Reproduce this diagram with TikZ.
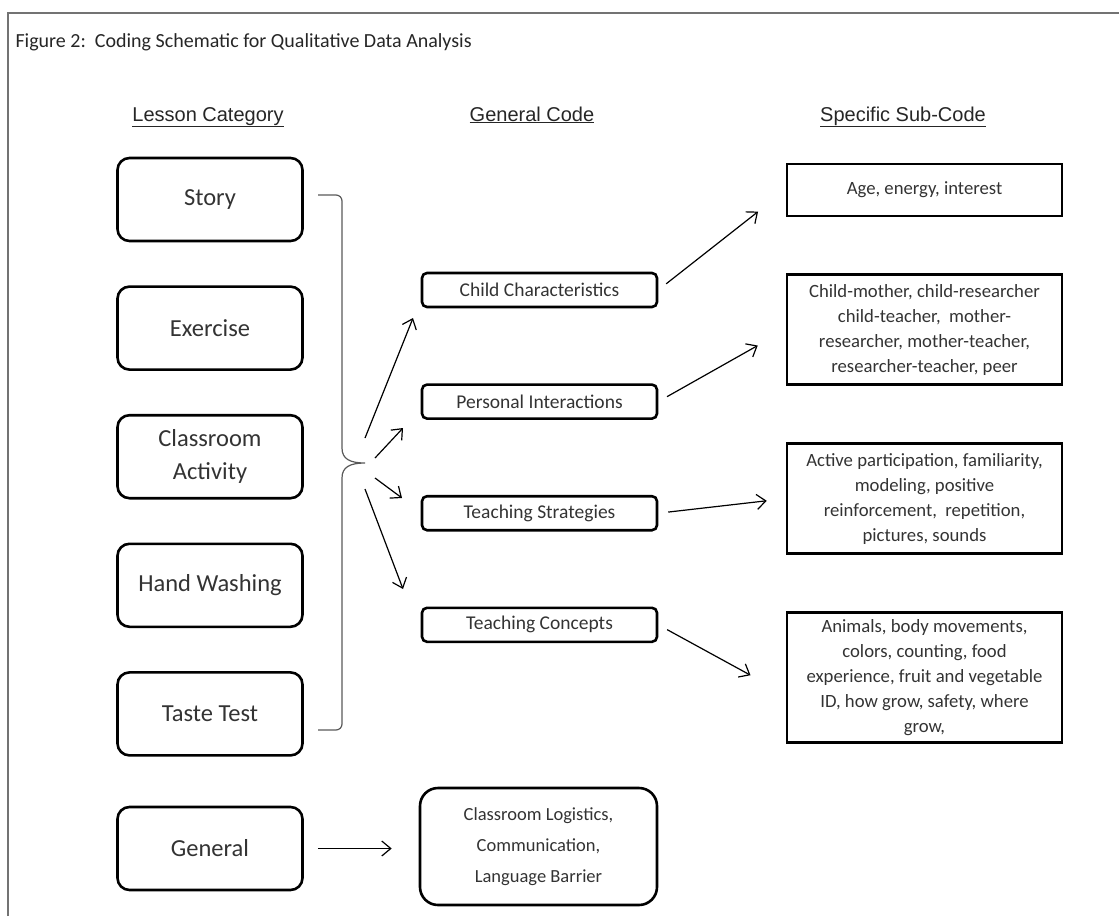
\documentclass[tikz,border=0pt]{standalone}
\usepackage{fontspec}
\setmainfont{Carlito}
\newfontfamily\headfont{Liberation Sans}
\usetikzlibrary{arrows.meta, positioning}
\tikzstyle{lesson} = [rectangle, rounded corners=12pt, minimum width=185pt, minimum height=83pt, text centered, align=center, draw=black, line width=2.6pt, text=black!80, font=\fontsize{24.5}{33}\selectfont]
\tikzstyle{gencode} = [rectangle, rounded corners=5pt, minimum width=235pt, minimum height=34pt, inner sep=1pt, text centered, draw=black, line width=2.6pt, text=black!80, font=\fontsize{19.5}{22}\selectfont]
\tikzstyle{subcode} = [rectangle, minimum width=275pt, inner sep=2pt, text centered, align=center, draw=black, line width=2.8pt, text=black!80, font=\fontsize{18.7}{25}\selectfont]
\tikzstyle{logist} = [rectangle, rounded corners=18pt, minimum width=237pt, minimum height=117pt, text centered, align=center, draw=black, line width=2.6pt, text=black!80, font=\fontsize{18.5}{31}\selectfont]
\tikzstyle{header} = [anchor=base, text=black!85, font=\headfont\fontsize{20}{24}\selectfont]
\tikzstyle{arrow} = [line width=1.2pt, -{Straight Barb[length=9pt,width=15pt]}]
\tikzstyle{brace} = [line width=1.2pt, draw=black!65]
\tikzstyle{frame} = [line width=2pt, draw=black!55]

\begin{document}
\begin{tikzpicture}[x=1pt, y=-1pt]
\useasboundingbox (0,0) rectangle (1119,916);

\draw [frame] (8,916) -- (8,13) -- (1119,13);

\node (title) [anchor=base west, text=black!85, font=\fontsize{20}{24}\selectfont] at (12,47) {Figure 2:\ \ Coding Schematic for Qualitative Data Analysis};

\node (hlesson) [header] at (208,121) {\underline{Lesson Category}};
\node (hgeneral) [header] at (532,121) {\underline{General Code}};
\node (hspecific) [header] at (903,121) {\underline{Specific Sub-Code}};

% lesson categories
\node (story) [lesson] at (210,199.5) {Story};
\node (exercise) [lesson, below=43pt of story] {Exercise};
\node (classact) [lesson, below=43pt of exercise] {Classroom\\Activity};
\node (handwash) [lesson, below=43pt of classact] {Hand Washing};
\node (tastetest) [lesson, below=43pt of handwash] {Taste Test};
\node (general) [lesson, below=49pt of tastetest] {General};

% general codes
\node (childchar) [gencode] at (539.5,290) {Child Characteristics};
\node (persint) [gencode, below=75pt of childchar] {Personal Interactions};
\node (teachstrat) [gencode, below=75pt of persint] {Teaching Strategies};
\node (teachconc) [gencode, below=75pt of teachstrat] {Teaching Concepts};
\node (logistics) [logist] at (538.5,846.5) {Classroom Logistics,\\Communication,\\Language Barrier};

% specific sub-codes
\node (agecode) [subcode, minimum height=52pt] at (924.5,190) {Age, energy, interest};
\node (relcode) [subcode, minimum height=110pt, below=56pt of agecode] {Child-mother, child-researcher\\child-teacher,\ \ mother-\\researcher, mother-teacher,\\researcher-teacher, peer};
\node (stratcode) [subcode, minimum height=110pt, below=56pt of relcode] {Active participation, familiarity,\\modeling, positive\\reinforcement,\ \ repetition,\\pictures, sounds};
\node (conccode) [subcode, minimum height=130pt, below=56pt of stratcode] {Animals, body movements,\\colors, counting, food\\experience, fruit and vegetable\\ID, how grow, safety, where\\grow,};

% brace round the lessons
\draw [brace] (318,195) -- (336,195) to[out=0,in=90] (342,201) -- (342,448)
  .. controls (342,459) and (350,463) .. (365,463)
  .. controls (350,463) and (342,467) .. (342,478) -- (342,724)
  to[out=-90,in=0] (336,730) -- (318,730);

\coordinate (fan1s) at (365,438);
\coordinate (fan1e) at (413,318);
\coordinate (fan2s) at (375,458);
\coordinate (fan2e) at (403,428);
\coordinate (fan3s) at (375,478);
\coordinate (fan3e) at (402,498);
\coordinate (fan4s) at (365,489);
\coordinate (fan4e) at (403,589);

\draw [arrow] (fan1s) -- (fan1e);
\draw [arrow] (fan2s) -- (fan2e);
\draw [arrow] (fan3s) -- (fan3e);
\draw [arrow] (fan4s) -- (fan4e);

\draw [arrow, shorten <=10pt, shorten >=35pt] (childchar.east) -- (agecode.west);
\draw [arrow, shorten <=10pt, shorten >=32pt] (persint.east) -- (relcode.west);
\draw [arrow, shorten <=10pt, shorten >=19pt] (teachstrat.east) -- (stratcode.west);
\draw [arrow, shorten <=10pt, shorten >=40pt] (teachconc.east) -- ([yshift=-17pt]conccode.west);
\draw [arrow, shorten <=14pt, shorten >=27pt] (general.east) -- (general.east -| logistics.west);

\end{tikzpicture}
\end{document}
